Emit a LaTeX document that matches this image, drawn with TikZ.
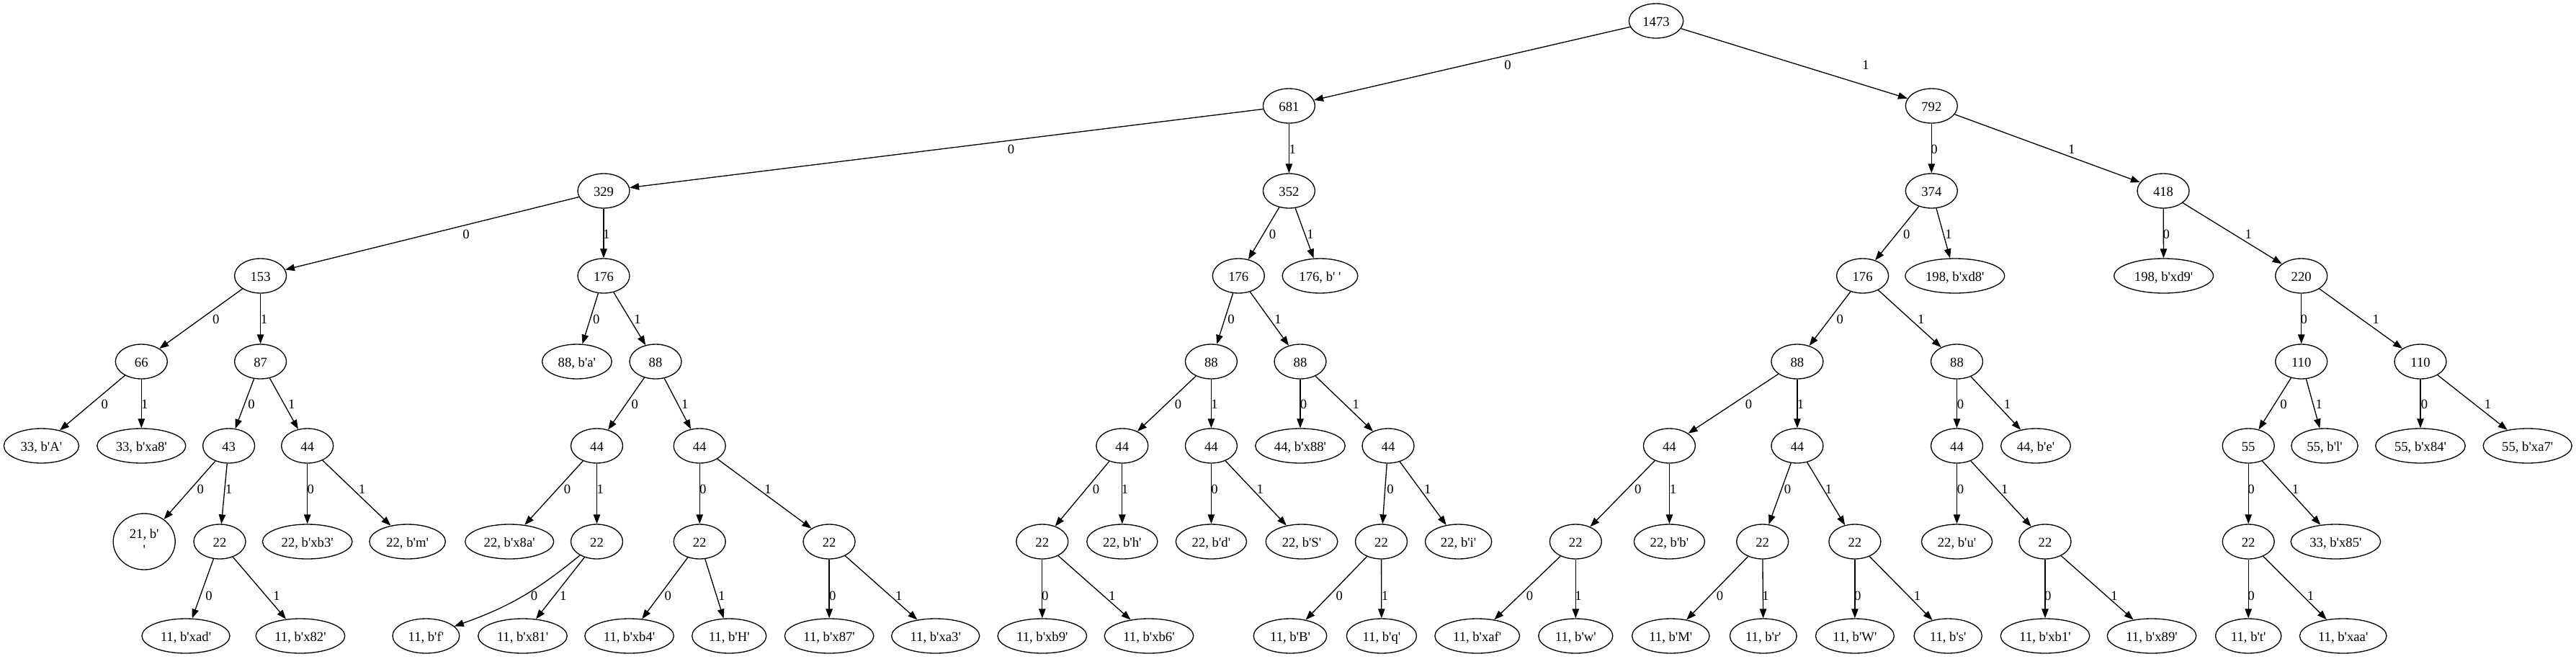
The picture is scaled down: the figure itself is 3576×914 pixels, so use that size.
\documentclass[tikz,border=0pt]{standalone}
\usepackage{fontspec}
\setmainfont{Liberation Serif}[Ligatures=TeXOff]
\usetikzlibrary{arrows.meta,shapes.geometric}

\begin{document}
\begin{tikzpicture}[x=1pt,y=-1pt,
  font=\fontsize{18.67}{22.4}\selectfont,
  hnode/.style={draw, ellipse, line width=1.33pt, minimum width=72pt, minimum height=48pt,
    inner xsep=8pt, inner ysep=4pt, text height=16pt, text depth=1.2pt},
  hedge/.style={line width=1.33pt, -{Triangle[length=13pt,width=9.5pt]}},
  hlbl/.style={inner sep=0pt}]
  \useasboundingbox (0,0) rectangle (3576,914);

  % row 0 and 1
  \node[hnode] (c) at (2299,29) {1473};
  \node[hnode] (c0) at (1789.4,147) {681};
  \node[hnode] (c1) at (2681.3,147) {792};

  % row 2
  \node[hnode] (c00) at (838,265) {329};
  \node[hnode] (c01) at (1789.4,265) {352};
  \node[hnode] (c10) at (2681.3,265) {374};
  \node[hnode] (c11) at (3003,265) {418};

  % row 3
  \node[hnode] (c000) at (361.6,383) {153};
  \node[hnode] (c001) at (838,383) {176};
  \node[hnode] (c010) at (1719.3,383) {176};
  \node[hnode] (c011) at (1832.5,383) {176, b' '};
  \node[hnode] (c100) at (2585.6,383) {176};
  \node[hnode] (c101) at (2713.8,383) {198, b'xd8'};
  \node[hnode] (c110) at (3003.6,383) {198, b'xd9'};
  \node[hnode] (c111) at (3194.7,383) {220};

  % row 4
  \node[hnode] (c0000) at (196.3,502) {66};
  \node[hnode] (c0001) at (361.6,502) {87};
  \node[hnode] (c0010) at (800.9,502) {88, b'a'};
  \node[hnode] (c0011) at (910,502) {88};
  \node[hnode] (c0100) at (1681.4,502) {88};
  \node[hnode] (c0101) at (1805,502) {88};
  \node[hnode] (c1000) at (2494.9,502) {88};
  \node[hnode] (c1001) at (2716.5,502) {88};
  \node[hnode] (c1110) at (3194.7,502) {110};
  \node[hnode] (c1111) at (3360,502) {110};

  % row 5
  \node[hnode] (c00000) at (57.4,619) {33, b'A'};
  \node[hnode] (c00001) at (196.3,619) {33, b'xa8'};
  \node[hnode] (c00010) at (317.6,619) {43};
  \node[hnode] (c00011) at (426.7,619) {44};
  \node[hnode] (c00110) at (828.5,619) {44};
  \node[hnode] (c00111) at (971.2,619) {44};
  \node[hnode] (c01000) at (1557.8,619) {44};
  \node[hnode] (c01001) at (1681.4,619) {44};
  \node[hnode] (c01010) at (1805,619) {44, b'x88'};
  \node[hnode] (c01011) at (1927,619) {44};
  \node[hnode] (c10000) at (2317.4,619) {44};
  \node[hnode] (c10001) at (2494.9,619) {44};
  \node[hnode] (c10010) at (2716.5,619) {44};
  \node[hnode] (c10011) at (2826,619) {44, b'e'};
  \node[hnode] (c11100) at (3121.2,619) {55};
  \node[hnode] (c11101) at (3227,619) {55, b'l'};
  \node[hnode] (c11110) at (3360,619) {55, b'x84'};
  \node[hnode] (c11111) at (3508.7,619) {55, b'xa7'};

  % row 6
  \node[hnode, text height={}, text depth={}, align=center, inner sep=2pt,
    minimum width=86pt, minimum height=78pt] (c000100) at (200.2,752) {21, b'\\'};
  \node[hnode] (c000101) at (305,752) {22};
  \node[hnode] (c000110) at (426.7,752) {22, b'xb3'};
  \node[hnode] (c000111) at (565.6,752) {22, b'm'};
  \node[hnode] (c001100) at (707.2,752) {22, b'x8a'};
  \node[hnode] (c001101) at (828.5,752) {22};
  \node[hnode] (c001110) at (971.2,752) {22};
  \node[hnode] (c001111) at (1151.1,752) {22};
  \node[hnode] (c010000) at (1446.8,752) {22};
  \node[hnode] (c010001) at (1557.8,752) {22, b'h'};
  \node[hnode] (c010010) at (1681.4,752) {22, b'd'};
  \node[hnode] (c010011) at (1807,752) {22, b'S'};
  \node[hnode] (c010110) at (1917.5,752) {22};
  \node[hnode] (c010111) at (2024.6,752) {22, b'i'};
  \node[hnode] (c100000) at (2187.3,752) {22};
  \node[hnode] (c100001) at (2317.4,752) {22, b'b'};
  \node[hnode] (c100010) at (2446.7,752) {22};
  \node[hnode] (c100011) at (2574.9,752) {22};
  \node[hnode] (c100100) at (2716.5,752) {22, b'u'};
  \node[hnode] (c100101) at (2839,752) {22};
  \node[hnode] (c111000) at (3121.2,752) {22};
  \node[hnode] (c111001) at (3242.4,752) {33, b'x85'};

  % row 7
  \node[hnode] (c0001010) at (258,883) {11, b'xad'};
  \node[hnode] (c0001011) at (417,883) {11, b'x82'};
  \node[hnode] (c0011010) at (591.4,883) {11, b'f'};
  \node[hnode] (c0011011) at (725.5,883) {11, b'x81'};
  \node[hnode] (c0011100) at (873.6,883) {11, b'xb4'};
  \node[hnode] (c0011101) at (1012.2,883) {11, b'H'};
  \node[hnode] (c0011110) at (1151.1,883) {11, b'x87'};
  \node[hnode] (c0011111) at (1298.7,883) {11, b'xa3'};
  \node[hnode] (c0100000) at (1446.8,883) {11, b'xb9'};
  \node[hnode] (c0100001) at (1595,883) {11, b'xb6'};
  \node[hnode] (c0101100) at (1791,883) {11, b'B'};
  \node[hnode] (c0101101) at (1917.9,883) {11, b'q'};
  \node[hnode] (c1000000) at (2050.7,883) {11, b'xaf'};
  \node[hnode] (c1000001) at (2187.3,883) {11, b'w'};
  \node[hnode] (c1000100) at (2319.3,883) {11, b'M'};
  \node[hnode] (c1000101) at (2447.8,883) {11, b'r'};
  \node[hnode] (c1000110) at (2574.9,883) {11, b'W'};
  \node[hnode] (c1000111) at (2704.2,883) {11, b's'};
  \node[hnode] (c1001010) at (2839,883) {11, b'xb1'};
  \node[hnode] (c1001011) at (2987,883) {11, b'x89'};
  \node[hnode] (c1110000) at (3121.2,883) {11, b't'};
  \node[hnode] (c1110001) at (3252.7,883) {11, b'xaa'};

  % edges, with their 0/1 labels
  \draw[hedge] (c) -- (c0) node[hlbl] at (2093,90) {0};
  \draw[hedge] (c) -- (c1) node[hlbl] at (2590,90) {1};
  \draw[hedge] (c0) -- (c00) node[hlbl] at (1403.6,207) {0};
  \draw[hedge] (c0) -- (c01) node[hlbl] at (1794.3,207) {1};
  \draw[hedge] (c1) -- (c10) node[hlbl] at (2685.1,207) {0};
  \draw[hedge] (c1) -- (c11) node[hlbl] at (2875.7,207) {1};

  \draw[hedge] (c00) -- (c000) node[hlbl] at (647,325) {0};
  \draw[hedge] (c00) -- (c001) node[hlbl] at (841.9,325) {1};
  \draw[hedge] (c01) -- (c010) node[hlbl] at (1766.4,325) {0};
  \draw[hedge] (c01) -- (c011) node[hlbl] at (1819,325) {1};
  \draw[hedge] (c10) -- (c100) node[hlbl] at (2646.8,325) {0};
  \draw[hedge] (c10) -- (c101) node[hlbl] at (2705,325) {1};
  \draw[hedge] (c11) -- (c110) node[hlbl] at (3007.3,325) {0};
  \draw[hedge] (c11) -- (c111) node[hlbl] at (3121.2,325) {1};

  \draw[hedge] (c000) -- (c0000) node[hlbl] at (299.7,443) {0};
  \draw[hedge] (c000) -- (c0001) node[hlbl] at (366.6,443) {1};
  \draw[hedge] (c001) -- (c0010) node[hlbl] at (827.7,443) {0};
  \draw[hedge] (c001) -- (c0011) node[hlbl] at (885.1,443) {1};
  \draw[hedge] (c010) -- (c0100) node[hlbl] at (1709,443) {0};
  \draw[hedge] (c010) -- (c0101) node[hlbl] at (1774,443) {1};
  \draw[hedge] (c100) -- (c1000) node[hlbl] at (2554.2,443) {0};
  \draw[hedge] (c100) -- (c1001) node[hlbl] at (2666.7,443) {1};
  \draw[hedge] (c111) -- (c1110) node[hlbl] at (3198.3,443) {0};
  \draw[hedge] (c111) -- (c1111) node[hlbl] at (3298.3,443) {1};

  \draw[hedge] (c0000) -- (c00000) node[hlbl] at (145.4,561) {0};
  \draw[hedge] (c0000) -- (c00001) node[hlbl] at (200.9,561) {1};
  \draw[hedge] (c0001) -- (c00010) node[hlbl] at (349,561) {0};
  \draw[hedge] (c0001) -- (c00011) node[hlbl] at (404.9,561) {1};
  \draw[hedge] (c0011) -- (c00110) node[hlbl] at (881.3,561) {0};
  \draw[hedge] (c0011) -- (c00111) node[hlbl] at (950.9,561) {1};
  \draw[hedge] (c0100) -- (c01000) node[hlbl] at (1635.5,561) {0};
  \draw[hedge] (c0100) -- (c01001) node[hlbl] at (1686,561) {1};
  \draw[hedge] (c0101) -- (c01010) node[hlbl] at (1809.6,561) {0};
  \draw[hedge] (c0101) -- (c01011) node[hlbl] at (1882.3,561) {1};
  \draw[hedge] (c1000) -- (c10000) node[hlbl] at (2427.6,561) {0};
  \draw[hedge] (c1000) -- (c10001) node[hlbl] at (2499.5,561) {1};
  \draw[hedge] (c1001) -- (c10010) node[hlbl] at (2721.5,561) {0};
  \draw[hedge] (c1001) -- (c10011) node[hlbl] at (2786.5,561) {1};
  \draw[hedge] (c1110) -- (c11100) node[hlbl] at (3170,561) {0};
  \draw[hedge] (c1110) -- (c11101) node[hlbl] at (3219.3,561) {1};
  \draw[hedge] (c1111) -- (c11110) node[hlbl] at (3365.5,561) {0};
  \draw[hedge] (c1111) -- (c11111) node[hlbl] at (3453.6,561) {1};

  \draw[hedge] (c00010) -- (c000100) node[hlbl] at (278.2,679) {0};
  \draw[hedge] (c00010) -- (c000101) node[hlbl] at (317.6,679) {1};
  \draw[hedge] (c00011) -- (c000110) node[hlbl] at (431.3,679) {0};
  \draw[hedge] (c00011) -- (c000111) node[hlbl] at (502.5,679) {1};
  \draw[hedge] (c00110) -- (c001100) node[hlbl] at (787.5,679) {0};
  \draw[hedge] (c00110) -- (c001101) node[hlbl] at (833.4,679) {1};
  \draw[hedge] (c00111) -- (c001110) node[hlbl] at (975.8,679) {0};
  \draw[hedge] (c00111) -- (c001111) node[hlbl] at (1066.1,679) {1};
  \draw[hedge] (c01000) -- (c010000) node[hlbl] at (1521.5,679) {0};
  \draw[hedge] (c01000) -- (c010001) node[hlbl] at (1561.6,679) {1};
  \draw[hedge] (c01001) -- (c010010) node[hlbl] at (1686,679) {0};
  \draw[hedge] (c01001) -- (c010011) node[hlbl] at (1749.2,679) {1};
  \draw[hedge] (c01011) -- (c010110) node[hlbl] at (1930.1,679) {0};
  \draw[hedge] (c01011) -- (c010111) node[hlbl] at (1981.8,679) {1};
  \draw[hedge] (c10000) -- (c100000) node[hlbl] at (2273.8,679) {0};
  \draw[hedge] (c10000) -- (c100001) node[hlbl] at (2322.4,679) {1};
  \draw[hedge] (c10001) -- (c100010) node[hlbl] at (2481.5,679) {0};
  \draw[hedge] (c10001) -- (c100011) node[hlbl] at (2538.5,679) {1};
  \draw[hedge] (c10010) -- (c100100) node[hlbl] at (2721.5,679) {0};
  \draw[hedge] (c10010) -- (c100101) node[hlbl] at (2782.7,679) {1};
  \draw[hedge] (c11100) -- (c111000) node[hlbl] at (3124.9,679) {0};
  \draw[hedge] (c11100) -- (c111001) node[hlbl] at (3186.6,679) {1};

  \draw[hedge] (c000101) -- (c0001010) node[hlbl] at (290,827) {0};
  \draw[hedge] (c000101) -- (c0001011) node[hlbl] at (384,827) {1};
  \draw[hedge] (c001101) to[bend left=10] (c0011010) node[hlbl] at (741.6,827) {0};
  \draw[hedge] (c001101) -- (c0011011) node[hlbl] at (781.8,827) {1};
  \draw[hedge] (c001110) -- (c0011100) node[hlbl] at (927.2,827) {0};
  \draw[hedge] (c001110) -- (c0011101) node[hlbl] at (1001.8,827) {1};
  \draw[hedge] (c001111) -- (c0011110) node[hlbl] at (1155.7,827) {0};
  \draw[hedge] (c001111) -- (c0011111) node[hlbl] at (1247.8,827) {1};
  \draw[hedge] (c010000) -- (c0100000) node[hlbl] at (1450.7,827) {0};
  \draw[hedge] (c010000) -- (c0100001) node[hlbl] at (1543.7,827) {1};
  \draw[hedge] (c010110) -- (c0101100) node[hlbl] at (1859.3,827) {0};
  \draw[hedge] (c010110) -- (c0101101) node[hlbl] at (1922.5,827) {1};
  \draw[hedge] (c100000) -- (c1000000) node[hlbl] at (2123.4,827) {0};
  \draw[hedge] (c100000) -- (c1000001) node[hlbl] at (2191.1,827) {1};
  \draw[hedge] (c100010) -- (c1000100) node[hlbl] at (2387.4,827) {0};
  \draw[hedge] (c100010) -- (c1000101) node[hlbl] at (2450.9,827) {1};
  \draw[hedge] (c100011) -- (c1000110) node[hlbl] at (2578.7,827) {0};
  \draw[hedge] (c100011) -- (c1000111) node[hlbl] at (2661.4,827) {1};
  \draw[hedge] (c100101) -- (c1001010) node[hlbl] at (2842.8,827) {0};
  \draw[hedge] (c100101) -- (c1001011) node[hlbl] at (2935,827) {1};
  \draw[hedge] (c111000) -- (c1110000) node[hlbl] at (3124.9,827) {0};
  \draw[hedge] (c111000) -- (c1110001) node[hlbl] at (3207.5,827) {1};
\end{tikzpicture}
\end{document}
